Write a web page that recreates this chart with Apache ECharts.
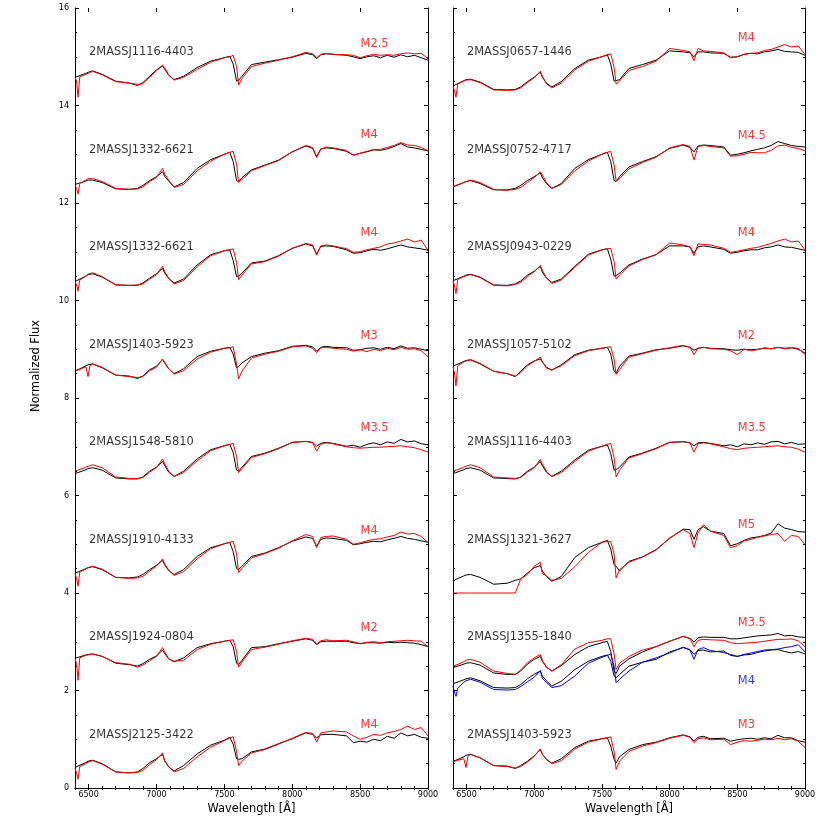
<!DOCTYPE html>
<html><head><meta charset="utf-8">
<script src="https://cdn.jsdelivr.net/npm/echarts@6/dist/echarts.min.js"></script>
<style>html,body{margin:0;padding:0;background:#fff}#c{width:830px;height:830px}</style>
</head><body><div id="c"></div>
<script>
// ---------- data ----------
const wavelength = [6400,6412,6422,6435,6480,6496,6510,6530,6600,6700,
  6800,6860,6900,6950,7000,7045,7060,7090,7130,7200,
  7300,7400,7500,7540,7565,7590,7605,7630,7700,7800,
  7900,8000,8100,8150,8180,8210,8250,8300,8400,8450,
  8500,8550,8600,8650,8700,8750,8800,8850,8900,8950,9000];

const xMajorTicks = [6500,7000,7500,8000,8500,9000];
const offsets = [14,12,10,8,6,4,2,0];

const leftNames = ['2MASSJ1116-4403','2MASSJ1332-6621','2MASSJ1332-6621','2MASSJ1403-5923',
  '2MASSJ1548-5810','2MASSJ1910-4133','2MASSJ1924-0804','2MASSJ2125-3422'];
const leftTypes = ['M2.5','M4','M4','M3','M3.5','M4','M2','M4'];
const rightNames = ['2MASSJ0657-1446','2MASSJ0752-4717','2MASSJ0943-0229','2MASSJ1057-5102',
  '2MASSJ1116-4403','2MASSJ1321-3627','2MASSJ1355-1840','2MASSJ1403-5923'];
const rightTypes = ['M4','M4.5','M4','M2','M3.5','M5','M3.5','M3'];
const leftTypeY = [15.27,13.39,11.38,9.28,7.38,5.28,3.29,1.29];
const rightTypeY = [15.39,13.38,11.38,9.28,7.38,5.39,3.39,1.29];
const blueType = 'M4';
const blueTypeY = 2.19;

// left panel (normalized flux, offset added later)
const L1_black = [.58,.59,.60,.61,.66,.68,.69,.71,.64,.50, .46,.41,.47,.60,.73,.81,.75,.62,.53,.60,
  .78,.91,.98,1.01,.85,.50,.52,.60,.84,.89, .94,.99,1.07,1.04,.96,1.04,1.06,1.05,1.03,1.00,
  .96,1.00,1.02,.98,1.03,.99,1.04,1.00,1.03,.98,.93];
const L1_red = [.57,.50,.17,.59,.64,.66,.68,.70,.63,.49, .46,.43,.45,.58,.71,.83,.78,.63,.52,.58,
  .74,.89,.98,1.00,1.03,.80,.42,.55,.80,.87, .93,1.00,1.09,1.06,.98,1.05,1.07,1.05,1.04,1.03,
  .98,1.02,1.05,1.03,1.04,1.03,1.06,1.08,1.06,1.07,.96];
const L2_black = [.38,.39,.40,.41,.45,.47,.48,.47,.42,.29, .28,.30,.36,.46,.54,.64,.55,.45,.33,.42,
  .71,.89,1.00,1.04,.85,.46,.44,.52,.68,.78, .88,1.05,1.17,1.12,.95,1.11,1.13,1.12,1.06,.98,
  1.02,1.05,1.09,1.08,1.11,1.16,1.22,1.15,1.13,1.10,1.07];
const L2_red = [.37,.30,.18,.40,.47,.50,.52,.50,.44,.30, .28,.29,.33,.44,.52,.71,.60,.47,.32,.38,
  .66,.86,1.00,1.04,1.06,.80,.42,.48,.66,.77, .87,1.05,1.18,1.14,.93,1.10,1.15,1.13,1.08,.98,
  1.02,1.06,1.10,1.10,1.14,1.18,1.24,1.19,1.18,1.14,1.07];
const L3_black = [.39,.41,.42,.43,.50,.53,.55,.55,.48,.32, .31,.31,.36,.46,.55,.66,.57,.45,.36,.44,
  .73,.94,1.02,1.04,.82,.49,.50,.56,.77,.81, .92,1.07,1.16,1.12,.95,1.11,1.12,1.11,1.04,.97,
  .98,1.02,1.05,1.03,1.06,1.10,1.14,1.10,1.08,1.06,1.03];
const L3_red = [.38,.32,.19,.42,.50,.54,.57,.57,.49,.32, .31,.32,.34,.44,.53,.70,.60,.46,.34,.41,
  .69,.92,1.02,1.04,1.06,.78,.43,.52,.75,.80, .91,1.07,1.17,1.14,.93,1.12,1.14,1.12,1.06,.99,
  1.00,1.04,1.07,1.10,1.16,1.18,1.22,1.26,1.20,1.24,1.03];
const L4_black = [.56,.57,.58,.59,.66,.68,.69,.70,.62,.47, .45,.40,.45,.58,.65,.79,.72,.60,.50,.60,
  .85,.96,1.02,1.04,.90,.62,.65,.72,.85,.92, .97,1.06,1.08,1.05,.96,1.04,1.06,1.04,1.03,.98,
  .99,1.02,1.03,1.00,1.04,1.01,1.07,1.02,1.03,1.00,.97];
const L4_red = [.55,.56,.57,.60,.64,.44,.66,.70,.63,.47, .44,.42,.44,.56,.63,.80,.74,.60,.49,.56,
  .80,.94,1.02,1.03,1.05,.70,.39,.55,.82,.90, .96,1.05,1.07,1.02,.93,1.03,1.04,1.02,1.00,.96,
  .99,.95,1.00,.97,1.02,.99,1.04,1.00,1.01,.97,.84];
const L5_black = [.45,.46,.47,.48,.53,.55,.56,.57,.52,.36, .34,.34,.38,.50,.58,.70,.62,.48,.39,.50,
  .75,.94,1.02,1.05,.88,.52,.50,.58,.80,.87, .97,1.09,1.11,1.09,1.01,1.07,1.09,1.07,1.01,1.03,
  .99,1.05,1.08,1.04,1.10,1.07,1.15,1.10,1.12,1.06,1.04];
const L5_red = [.50,.51,.52,.53,.58,.60,.61,.63,.57,.38, .35,.35,.37,.48,.57,.75,.66,.50,.39,.47,
  .71,.92,1.02,1.05,1.07,.80,.47,.55,.78,.86, .96,1.09,1.11,1.08,.91,1.05,1.08,1.06,1.00,.98,
  .97,.98,.99,.99,1.00,1.01,1.02,1.00,.98,.94,.89];
const L6_black = [.41,.42,.43,.44,.50,.52,.53,.54,.48,.32, .31,.33,.38,.48,.57,.67,.58,.46,.38,.48,
  .75,.93,1.01,1.04,.85,.50,.48,.55,.75,.82, .93,1.06,1.15,1.12,.96,1.10,1.13,1.12,1.08,.99,
  1.01,1.04,1.06,1.05,1.09,1.12,1.16,1.12,1.10,1.07,1.04];
const L6_red = [.40,.30,.14,.43,.49,.52,.54,.55,.49,.32, .30,.31,.34,.45,.55,.70,.60,.47,.36,.44,
  .70,.91,1.01,1.04,1.06,.80,.42,.50,.72,.81, .92,1.07,1.20,1.16,.93,1.14,1.16,1.17,1.10,1.00,
  1.03,1.07,1.10,1.11,1.15,1.18,1.25,1.21,1.22,1.16,1.03];
const L7_black = [.66,.67,.68,.69,.73,.74,.75,.75,.70,.56, .53,.50,.55,.64,.71,.83,.76,.65,.59,.67,
  .88,.96,1.01,1.03,.90,.56,.53,.62,.88,.90, .96,1.01,1.06,1.03,.94,1.00,1.01,1.01,1.01,.98,
  .96,.98,.98,.97,.99,.98,.99,.98,.97,.94,.90];
const L7_red = [.65,.55,.21,.67,.72,.73,.74,.75,.70,.57, .54,.48,.52,.61,.70,.88,.80,.65,.60,.62,
  .84,.95,1.01,1.03,1.04,.80,.48,.58,.84,.89, .95,1.02,1.07,1.05,.95,1.02,1.04,1.02,1.03,1.00,
  .96,.99,1.00,.98,1.00,1.01,1.02,1.03,1.02,1.01,.90];
const L8_black = [.42,.44,.45,.46,.52,.55,.56,.57,.50,.33, .31,.33,.40,.52,.60,.69,.56,.43,.35,.46,
  .70,.88,.98,1.04,.90,.60,.59,.60,.74,.80, .91,1.01,1.13,1.10,1.03,1.09,1.10,1.10,1.07,.93,
  .96,.94,1.00,.97,1.06,1.02,1.13,1.07,1.10,1.04,1.02];
const L8_red = [.41,.30,.18,.44,.50,.53,.55,.56,.49,.33, .31,.32,.36,.48,.58,.72,.56,.44,.33,.40,
  .64,.84,.97,1.03,1.05,.75,.46,.55,.72,.79, .90,1.02,1.14,1.12,.94,1.13,1.15,1.17,1.15,1.07,
  1.00,1.04,1.10,1.08,1.13,1.16,1.20,1.27,1.20,1.24,1.07];

// right panel
const R1_black = [.40,.42,.43,.45,.51,.53,.54,.54,.48,.33, .32,.33,.38,.49,.58,.69,.58,.46,.38,.49,
  .76,.93,1.00,1.04,.85,.50,.51,.53,.76,.84, .93,1.12,1.10,1.08,1.00,1.10,1.10,1.08,1.07,.99,
  1.00,1.05,1.07,1.06,1.10,1.12,1.15,1.11,1.10,1.09,1.03];
const R1_red = [.39,.30,.17,.44,.50,.52,.53,.53,.47,.32, .31,.32,.36,.47,.57,.70,.60,.45,.36,.46,
  .73,.91,1.00,1.04,1.06,.78,.44,.50,.72,.80, .91,1.17,1.13,1.10,.92,1.17,1.12,1.11,1.08,.98,
  1.00,1.05,1.07,1.08,1.13,1.15,1.20,1.25,1.20,1.22,1.05];
const R2_black = [.33,.35,.36,.37,.42,.44,.45,.46,.40,.27, .27,.30,.36,.46,.54,.62,.52,.40,.30,.40,
  .71,.89,1.00,1.04,.85,.46,.44,.54,.74,.85, .95,1.12,1.19,1.14,1.05,1.17,1.19,1.18,1.15,.98,
  1.00,1.03,1.07,1.10,1.13,1.18,1.26,1.22,1.18,1.16,1.15];
const R2_red = [.33,.34,.35,.36,.42,.44,.45,.47,.42,.28, .26,.28,.32,.42,.52,.64,.58,.42,.30,.38,
  .66,.86,1.00,1.04,1.06,.78,.45,.50,.70,.83, .94,1.13,1.20,1.16,.88,1.16,1.18,1.16,1.13,.96,
  .97,1.00,1.04,1.03,1.03,1.08,1.17,1.19,1.14,1.12,1.07];
const R3_black = [.41,.42,.43,.44,.50,.52,.53,.54,.48,.32, .31,.34,.40,.52,.60,.70,.58,.46,.37,.44,
  .70,.95,1.04,1.06,.85,.50,.51,.56,.73,.85, .94,1.12,1.12,1.10,.97,1.10,1.12,1.10,1.05,.97,
  .99,1.02,1.04,1.04,1.08,1.10,1.14,1.10,1.09,1.06,1.03];
const R3_red = [.40,.30,.14,.43,.49,.51,.52,.53,.47,.31, .30,.33,.37,.49,.59,.72,.62,.47,.35,.42,
  .68,.93,1.04,1.06,1.07,.80,.44,.52,.71,.84, .94,1.18,1.14,1.10,.92,1.16,1.15,1.14,1.07,.99,
  1.01,1.04,1.07,1.09,1.13,1.17,1.22,1.26,1.20,1.22,1.04];
const R4_black = [.65,.67,.68,.70,.75,.77,.78,.78,.70,.55, .50,.44,.55,.68,.76,.80,.74,.63,.57,.68,
  .89,.98,1.02,1.04,.90,.55,.51,.65,.86,.92, .99,1.02,1.07,1.04,.98,1.02,1.04,1.02,1.01,.99,
  .98,1.00,.99,1.00,1.02,1.01,1.04,1.02,1.03,1.00,.92];
const R4_red = [.64,.50,.25,.66,.74,.76,.77,.79,.71,.55, .50,.45,.52,.66,.75,.84,.75,.61,.58,.66,
  .87,.97,1.02,1.04,1.05,.80,.48,.58,.84,.91, .98,1.03,1.08,1.04,.89,1.02,1.04,1.01,1.00,.97,
  .89,1.00,.97,.99,1.03,1.01,1.04,1.01,1.03,1.02,.89];
const R5_black = [.45,.46,.47,.48,.53,.55,.56,.57,.52,.36, .35,.34,.38,.50,.58,.70,.61,.48,.39,.50,
  .73,.93,1.01,1.04,.86,.52,.53,.58,.79,.87, .97,1.09,1.10,1.08,1.02,1.08,1.09,1.07,1.02,1.04,
  1.00,1.06,1.04,1.08,1.05,1.10,1.11,1.06,1.09,1.05,1.06];
const R5_red = [.50,.51,.52,.53,.58,.60,.61,.63,.57,.38, .36,.35,.37,.48,.57,.74,.65,.50,.39,.47,
  .70,.91,1.01,1.05,1.07,.78,.38,.52,.77,.86, .96,1.09,1.11,1.08,.89,1.06,1.08,1.06,1.00,.96,
  .94,.97,.98,.99,1.00,1.01,1.02,1.00,.99,.95,.89];
const R6_black = [.24,.26,.28,.30,.35,.37,.38,.38,.32,.18, .20,.26,.29,.41,.52,.56,.45,.34,.24,.34,
  .73,.93,1.04,1.08,.90,.58,.55,.45,.65,.74, .89,1.12,1.31,1.30,1.10,1.30,1.36,1.27,1.22,.97,
  1.01,1.08,1.13,1.15,1.18,1.23,1.42,1.33,1.30,1.26,1.25];
const R6_red = [0,0,0,0,0,0,0,0,0,0, 0,0,.29,.38,.55,.63,.40,.35,.26,.30,
  .54,.83,1.04,1.06,1.06,.80,.31,.48,.63,.74, .88,1.13,1.30,1.22,.93,1.23,1.40,1.27,1.18,.93,
  .97,1.07,1.10,1.14,1.17,1.20,1.22,1.06,1.18,1.16,.99];
const R7_black = [.47,.48,.49,.50,.54,.56,.57,.57,.52,.36, .33,.33,.40,.54,.64,.70,.60,.48,.40,.51,
  .74,.90,.98,1.01,.80,.40,.35,.50,.65,.79, .90,1.01,1.11,1.07,.99,1.08,1.10,1.09,1.09,1.06,
  1.06,1.08,1.10,1.12,1.13,1.14,1.17,1.12,1.13,1.10,1.09];
const R7_red = [.50,.51,.52,.53,.59,.62,.63,.64,.58,.40, .35,.33,.42,.57,.67,.74,.62,.48,.40,.53,
  .85,.98,1.03,1.06,1.06,.75,.43,.56,.70,.83, .90,1.01,1.11,1.06,.90,1.03,1.05,1.04,1.03,.98,
  .96,.97,.98,.99,1.01,1.03,1.05,1.05,1.06,1.02,.90];
const R7b_black = [.14,.15,.16,.17,.22,.24,.25,.26,.20,.06, .05,.06,.12,.24,.33,.40,.30,.20,.09,.19,
  .43,.60,.70,.73,.60,.30,.26,.33,.50,.58, .64,.79,.88,.84,.74,.82,.83,.79,.81,.72,
  .70,.73,.74,.78,.81,.83,.84,.80,.77,.80,.75];
const R7b_blue = [.09,-.05,-.12,.05,.17,.20,.22,.23,.17,.02, .01,.02,.08,.18,.27,.41,.25,.17,.06,.10,
  .30,.56,.68,.72,.75,.50,.16,.23,.40,.58, .67,.77,.89,.83,.64,.84,.88,.82,.78,.74,
  .70,.74,.77,.80,.83,.84,.85,.88,.90,.94,.79];
const R8_black = [.55,.56,.57,.58,.64,.67,.68,.69,.62,.46, .45,.40,.46,.55,.66,.79,.69,.59,.51,.60,
  .83,.96,1.01,1.03,.86,.59,.51,.64,.79,.89, .94,1.03,1.09,1.05,.96,1.04,1.06,1.01,1.02,.96,
  .99,1.01,1.02,1.00,1.03,1.01,1.08,1.03,1.03,.97,.94];
const R8_red = [.54,.55,.56,.58,.60,.42,.65,.69,.62,.46, .44,.41,.44,.53,.65,.80,.70,.58,.50,.56,
  .80,.94,1.01,1.03,1.05,.75,.38,.55,.75,.86, .93,1.02,1.08,1.04,.93,1.01,1.03,.99,1.00,.89,
  .94,.97,.96,.98,1.00,.99,1.02,.99,1.01,.96,.83];

const leftBlack = [L1_black,L2_black,L3_black,L4_black,L5_black,L6_black,L7_black,L8_black];
const leftRed = [L1_red,L2_red,L3_red,L4_red,L5_red,L6_red,L7_red,L8_red];
const rightBlack = [R1_black,R2_black,R3_black,R4_black,R5_black,R6_black,R7_black,R8_black];
const rightRed = [R1_red,R2_red,R3_red,R4_red,R5_red,R6_red,R7_red,R8_red];

// ---------- chart ----------
const FONT = 'DejaVu Sans';
const BLACK = '#000000', RED = '#ff0000', BLUE = '#0000ff';
const chart = echarts.init(document.getElementById('c'), null, {renderer: 'canvas'});

function lineSeries(vals, off, color, xi, yi, z) {
  return {type: 'line', xAxisIndex: xi, yAxisIndex: yi, z: z,
    data: wavelength.map((w, i) => [w, +(off + vals[i]).toFixed(3)]),
    showSymbol: false, symbol: 'none', silent: true, animation: false,
    lineStyle: {color: color, width: 1}, itemStyle: {color: color}};
}
function textSeries(items, color, xi, yi) {
  return {type: 'scatter', xAxisIndex: xi, yAxisIndex: yi, z: 10, silent: true, animation: false,
    symbolSize: 1, itemStyle: {color: 'rgba(0,0,0,0)'},
    data: items,
    label: {show: true, position: 'right', distance: 0, color: color, fontSize: 11.4,
      fontFamily: FONT, formatter: p => p.data[2]}};
}

const series = [];
offsets.forEach((off, k) => {
  series.push(lineSeries(leftBlack[k], off, BLACK, 0, 0, 2));
  series.push(lineSeries(leftRed[k], off, RED, 0, 0, 3));
  series.push(lineSeries(rightBlack[k], off, BLACK, 4, 2, 2));
  series.push(lineSeries(rightRed[k], off, RED, 4, 2, 3));
});
series.push(lineSeries(R7b_black, 2, BLACK, 4, 2, 2));
series.push(lineSeries(R7b_blue, 2, BLUE, 4, 2, 3));

series.push(textSeries(offsets.map((o, k) => [6500, o + 1.09, leftNames[k]]), BLACK, 0, 0));
series.push(textSeries(offsets.map((o, k) => [8500, leftTypeY[k], leftTypes[k]]), RED, 0, 0));
series.push(textSeries(offsets.map((o, k) => [6500, o + 1.09, rightNames[k]]), BLACK, 4, 2));
series.push(textSeries(offsets.map((o, k) => [8500, rightTypeY[k], rightTypes[k]]), RED, 4, 2));
series.push(textSeries([[8500, blueTypeY, blueType]], BLUE, 4, 2));

function xAxes(gi, name) {
  const base = {type: 'value', gridIndex: gi, min: 6400, max: 9000, splitLine: {show: false}};
  return [
    Object.assign({}, base, {position: 'bottom', interval: 100,
      axisLine: {show: true, lineStyle: {color: BLACK, width: 1}},
      axisTick: {show: true, inside: true, length: 2, lineStyle: {color: BLACK}},
      axisLabel: {show: true, margin: 3, fontSize: 8, color: BLACK, fontFamily: FONT, hideOverlap: false,
        formatter: v => (v % 500 === 0 ? String(v) : '')},
      name: name, nameLocation: 'middle', nameGap: 13,
      nameTextStyle: {fontSize: 11.4, color: BLACK, fontFamily: FONT}}),
    Object.assign({}, base, {position: 'top', interval: 100,
      axisLine: {show: true, lineStyle: {color: BLACK, width: 1}},
      axisTick: {show: true, inside: true, length: 2, lineStyle: {color: BLACK}},
      axisLabel: {show: false}}),
    Object.assign({}, base, {position: 'bottom',
      axisLine: {show: false},
      axisTick: {show: true, inside: true, length: 4, customValues: xMajorTicks, lineStyle: {color: BLACK}},
      axisLabel: {show: false}}),
    Object.assign({}, base, {position: 'top',
      axisLine: {show: false},
      axisTick: {show: true, inside: true, length: 4, customValues: xMajorTicks, lineStyle: {color: BLACK}},
      axisLabel: {show: false}})
  ];
}
function yAxis(gi, pos, labels) {
  return {type: 'value', gridIndex: gi, position: pos, min: 0, max: 16, interval: 2,
    splitLine: {show: false}, minorSplitLine: {show: false},
    axisLine: {show: true, lineStyle: {color: BLACK, width: 1}},
    axisTick: {show: true, inside: true, length: 4, lineStyle: {color: BLACK}},
    minorTick: {show: true, splitNumber: 4, length: 2, lineStyle: {color: BLACK}},
    axisLabel: {show: labels, margin: 6, fontSize: 8, color: BLACK, fontFamily: FONT}};
}

chart.setOption({
  backgroundColor: '#ffffff',
  animation: false,
  grid: [
    {left: 75, top: 8, width: 353, height: 780, containLabel: false},
    {left: 453, top: 8, width: 352, height: 780, containLabel: false}
  ],
  xAxis: [...xAxes(0, 'Wavelength [Å]'), ...xAxes(1, 'Wavelength [Å]')],
  yAxis: [yAxis(0, 'left', true), yAxis(0, 'right', false), yAxis(1, 'left', false), yAxis(1, 'right', false)],
  graphic: [{type: 'text', left: 31, top: 320, rotation: Math.PI / 2,
    style: {text: 'Normalized Flux', fontSize: 11.4, fontFamily: FONT, fill: BLACK}}],
  series: series
});
</script></body></html>
